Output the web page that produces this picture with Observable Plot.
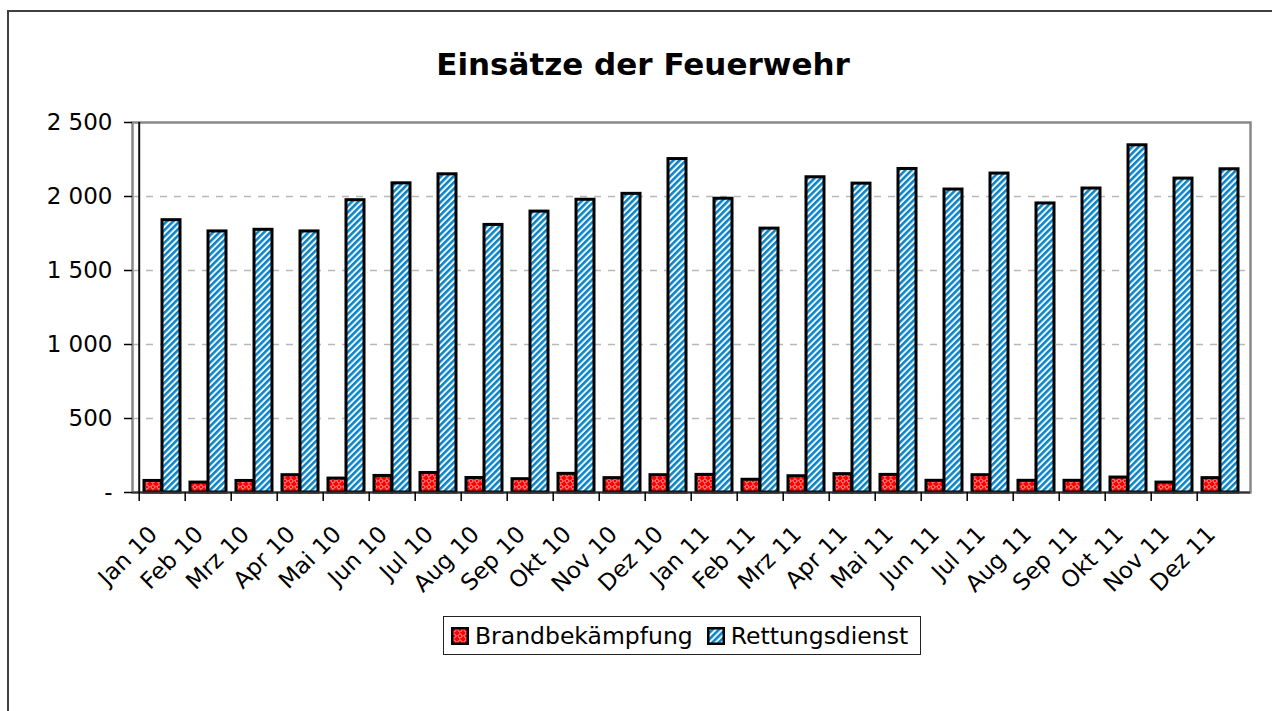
<!DOCTYPE html>
<html>
<head>
<meta charset="utf-8">
<script src="https://cdn.jsdelivr.net/npm/d3@7"></script>
<script src="https://cdn.jsdelivr.net/npm/@observablehq/plot@0.6"></script>
<style>
  html, body { margin: 0; padding: 0; background: #fff; }
  body { width: 1272px; height: 711px; overflow: hidden; position: relative; font-family: "DejaVu Sans", Verdana, sans-serif; }
  #border { position: absolute; left: 7px; top: 10px; width: 1300px; height: 720px; border-left: 2.5px solid #404040; border-top: 2.5px solid #404040; pointer-events: none; }
  #title { height: 100px; box-sizing: border-box; padding-top: 49px; padding-left: 14px; text-align: center; font-size: 31px; font-weight: bold; line-height: 1; color: #000; }
  #chart svg { display: block; }
  #legend { margin-top: 11px; margin-left: 443px; display: inline-flex; align-items: center; border: 1.5px solid #222; padding: 0 12px 0 7px; height: 37px; font-size: 23.5px; color: #000; }
  #legend .sw { width: 18px; height: 18px; margin-right: 6px; display: block; }
  #legend .item { display: flex; align-items: center; }
  #legend .item + .item { margin-left: 14px; }
</style>
</head>
<body>
<div id="border"></div>
<div id="title">Einsätze der Feuerwehr</div>
<div id="chart"></div>
<div id="legend"></div>
<script>
// ---- Data ----
const months = ["Jan 10","Feb 10","Mrz 10","Apr 10","Mai 10","Jun 10","Jul 10","Aug 10","Sep 10","Okt 10","Nov 10","Dez 10",
                "Jan 11","Feb 11","Mrz 11","Apr 11","Mai 11","Jun 11","Jul 11","Aug 11","Sep 11","Okt 11","Nov 11","Dez 11"];
const brandbekaempfung = [78, 67, 78, 117, 94, 112, 132, 98, 90, 126, 97, 117, 119, 86, 110, 124, 119, 79, 117, 79, 79, 101, 67, 97];
const rettungsdienst = [1840, 1764, 1775, 1764, 1975, 2089, 2150, 1808, 1898, 1978, 2018, 2253, 1985, 1783, 2130, 2087, 2186, 2047, 2155, 1953, 2054, 2346, 2121, 2184];
const seriesNames = ["Brandbekämpfung", "Rettungsdienst"];
const yTicks = [0, 500, 1000, 1500, 2000, 2500];
const gridValues = [500, 1000, 1500, 2000];

const brandData = months.map((m, i) => ({month: m, value: brandbekaempfung[i]}));
const rettData = months.map((m, i) => ({month: m, value: rettungsdienst[i]}));

// ---- Layout ----
const W = 1272, H = 505;
const mL = 132, mR = 22, mT = 22, mB = 113;
const bw = (W - mL - mR) / months.length;

const fmt = d => d === 0 ? "-" : d3.format(",")(d).replace(/,/g, " ");

const chart = Plot.plot({
  width: W, height: H,
  marginLeft: mL, marginRight: mR, marginTop: mT, marginBottom: mB,
  style: {fontFamily: "DejaVu Sans, Verdana, sans-serif", fontSize: "23px", background: "transparent", color: "#000"},
  x: {type: "band", domain: months, paddingInner: 0, paddingOuter: 0, label: null},
  y: {domain: [0, 2500], label: null},
  marks: [
    Plot.ruleY(gridValues, {stroke: "#b8b8b8", strokeWidth: 1.5, strokeDasharray: "7,7"}),
    Plot.frame({stroke: "#888", strokeWidth: 2.5}),
    Plot.barY(brandData, {x: "month", y: "value", fill: "url(#pRed)", stroke: "#000", strokeWidth: 3,
      insetLeft: 5, insetRight: bw - 23}),
    Plot.barY(rettData, {x: "month", y: "value", fill: "url(#pBlue)", stroke: "#000", strokeWidth: 3,
      insetLeft: 23, insetRight: 5}),
    Plot.ruleY([0], {stroke: "#333", strokeWidth: 2}),
    Plot.ruleX([months[0]], {dx: -bw / 2, stroke: "#111", strokeWidth: 2}),
    Plot.axisY({ticks: yTicks, tickFormat: fmt, tickSize: 8, tickPadding: 12, strokeWidth: 1.5, label: null, fontSize: 23}),
    Plot.axisX({tickSize: 9, tickFormat: () => "", dx: -bw / 2, strokeWidth: 1.5, label: null}),
    Plot.axisX({tickSize: 0, tickPadding: 38, tickRotate: -45, dx: -9, label: null, fontSize: 23})
  ]
});

document.getElementById("chart").appendChild(chart);

// Patterns (fill definitions)
const defs = d3.select(chart).insert("defs", ":first-child");
const pr = defs.append("pattern").attr("id", "pRed").attr("patternUnits", "userSpaceOnUse").attr("width", 6).attr("height", 6);
pr.append("rect").attr("width", 6).attr("height", 6).attr("fill", "#ff0000");
pr.append("path").attr("d", "M3 0.6 L5.4 3 L3 5.4 L0.6 3 Z").attr("fill", "none").attr("stroke", "#ffc8c8").attr("stroke-width", 0.9);
const pb = defs.append("pattern").attr("id", "pBlue").attr("patternUnits", "userSpaceOnUse").attr("width", 4.5).attr("height", 4.5).attr("patternTransform", "rotate(45)");
pb.append("rect").attr("width", 4.5).attr("height", 4.5).attr("fill", "#eef7fc");
pb.append("rect").attr("width", 2.5).attr("height", 4.5).attr("fill", "#0a82c8");

// Legend
const legend = d3.select("#legend");
const fills = ["url(#pRed)", "url(#pBlue)"];
seriesNames.forEach((name, i) => {
  const item = legend.append("div").attr("class", "item");
  const sw = item.append("svg").attr("class", "sw").attr("width", 18).attr("height", 18);
  sw.append("rect").attr("x", 1.25).attr("y", 1.25).attr("width", 15.5).attr("height", 15.5)
    .attr("fill", fills[i]).attr("stroke", "#000").attr("stroke-width", 2.5);
  item.append("span").text(name);
});
</script>
</body>
</html>
